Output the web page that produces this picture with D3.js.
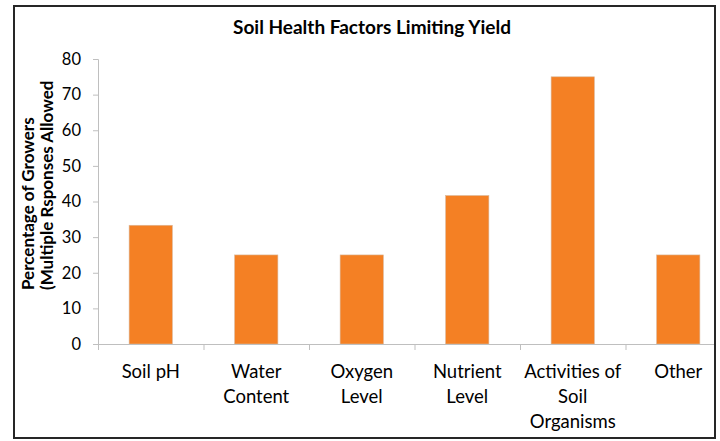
<!DOCTYPE html>
<html><head><meta charset="utf-8">
<script src="https://cdn.jsdelivr.net/npm/d3@7"></script>
<style>body{margin:0;background:#fff}svg{display:block}</style>
</head><body><svg id="c" width="720" height="441"></svg>
<script>
const categories = [["Soil pH"],["Water","Content"],["Oxygen","Level"],["Nutrient","Level"],["Activities of","Soil","Organisms"],["Other"]];
const values = [33.33, 25, 25, 41.67, 75, 25];
const yTicks = [0,10,20,30,40,50,60,70,80];
const title = "Soil Health Factors Limiting Yield";
const yTitle = ["Percentage of Growers","(Multiple Rsponses Allowed"];

const svg = d3.select("#c");
const font = "Lato, 'Open Sans', sans-serif";
const m = {l:98, r:731, t:59, b:344};
svg.append("defs").append("clipPath").attr("id","clip")
  .append("rect").attr("x",14).attr("y",6).attr("width",701).attr("height",432);
const g = svg.append("g").attr("clip-path","url(#clip)");

const x = d3.scaleBand().domain(d3.range(categories.length)).range([m.l,m.r]).paddingInner(0.59).paddingOuter(0.295);
const y = d3.scaleLinear().domain([0,80]).range([m.b,m.t]);

// bars
g.selectAll("rect.bar").data(values).join("rect").attr("class","bar")
  .attr("x",(d,i)=>x(i)).attr("width",x.bandwidth())
  .attr("y",d=>y(d)).attr("height",d=>y(0)-y(d))
  .attr("fill","#f48024").attr("stroke","#d9b79a").attr("stroke-width",0.6);

// y axis
const ya = g.append("g").attr("transform",`translate(${m.l},0)`)
  .call(d3.axisLeft(y).tickValues(yTicks).tickSize(5).tickPadding(12));
ya.select(".domain").attr("stroke","#bfbfbf");
ya.selectAll(".tick line").attr("stroke","#bfbfbf");
ya.selectAll("text").attr("font-family",font).attr("font-size",16.5).attr("fill","#000");

// x axis
const xb = d3.scaleLinear().domain([0,categories.length]).range([m.l,m.r]);
const xa = g.append("g").attr("transform",`translate(0,${m.b})`)
  .call(d3.axisBottom(xb).tickValues(d3.range(categories.length+1)).tickSize(6).tickFormat(""));
xa.select(".domain").attr("stroke","#bfbfbf");
xa.selectAll(".tick line").attr("stroke","#bfbfbf");

// category labels
categories.forEach((lines,i)=>{
  const t = g.append("text").attr("text-anchor","middle").attr("font-family",font)
    .attr("font-size",18.5).attr("fill","#000");
  lines.forEach((s,j)=>t.append("tspan").attr("x",x(i)+x.bandwidth()/2).attr("y",378+j*25).text(s));
});

// title
g.append("text").attr("x",372).attr("y",34).attr("text-anchor","middle")
  .attr("font-family",font).attr("font-weight","bold").attr("font-size",19).text(title);

// y title
yTitle.forEach((s,j)=>{
  g.append("text").attr("transform",`translate(${34+j*19},290) rotate(-90)`)
   .attr("text-anchor","start").attr("font-family",font).attr("font-weight","bold")
   .attr("font-size",17).text(s);
});

// border
svg.append("rect").attr("x",14).attr("y",6).attr("width",701).attr("height",432)
  .attr("fill","none").attr("stroke","#262626").attr("stroke-width",2);
</script></body></html>
